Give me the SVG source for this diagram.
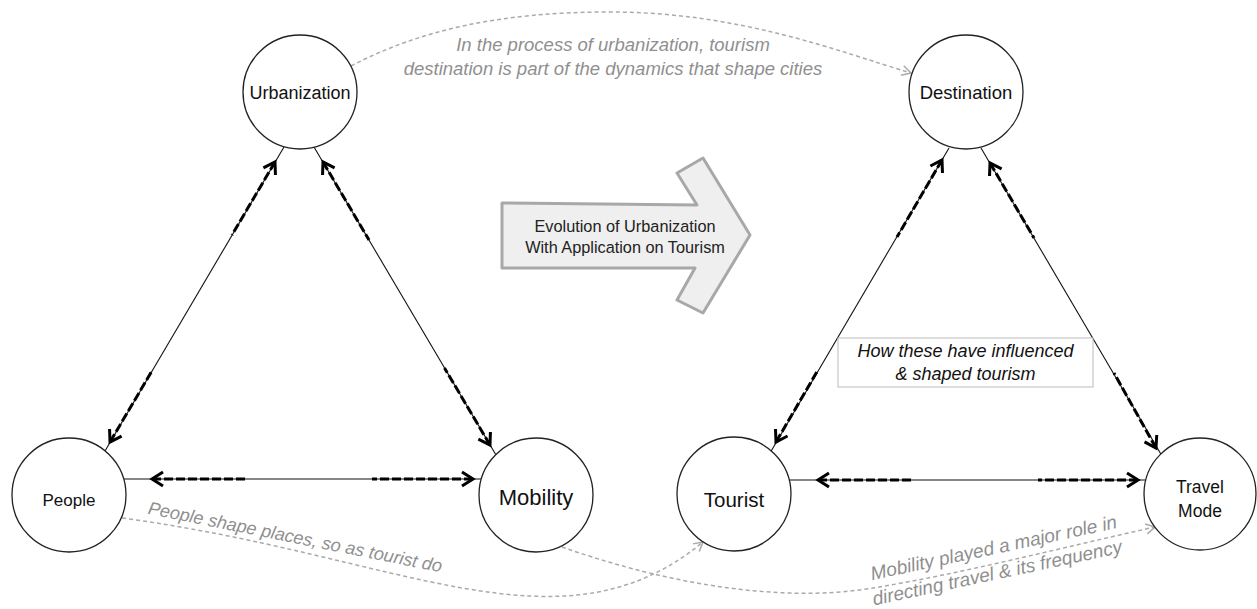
<svg xmlns="http://www.w3.org/2000/svg" width="1257" height="609" viewBox="0 0 1257 609">
<defs>
<style>
.c{fill:#fff;stroke:#222;stroke-width:1.3}
.nl{font-family:"Liberation Sans",Arial,sans-serif;fill:#111;text-anchor:middle}
.thin{stroke:#111;stroke-width:1.1;fill:none}
.td{stroke:#000;stroke-width:3;stroke-dasharray:9 3;fill:none;marker-start:url(#ah)}
.gc{stroke:#aaa;stroke-width:1.5;stroke-dasharray:4 3;fill:none;marker-end:url(#gh)}
.gt{font-family:"Liberation Sans",Arial,sans-serif;font-style:italic;fill:#8f8f8f;text-anchor:middle}
.bt{font-family:"Liberation Sans",Arial,sans-serif;font-style:italic;fill:#111;text-anchor:middle;font-size:18px}
.at{font-family:"Liberation Sans",Arial,sans-serif;fill:#222;text-anchor:middle;font-size:16.3px}
</style>
<marker id="ah" markerUnits="userSpaceOnUse" markerWidth="18" markerHeight="18" refX="13" refY="9" orient="auto-start-reverse" overflow="visible"><path d="M2,2 L13,9 L2,16" fill="none" stroke="#000" stroke-width="3" stroke-dasharray="none"/></marker>
<marker id="gh" markerUnits="userSpaceOnUse" markerWidth="12" markerHeight="12" refX="10" refY="6" orient="auto" overflow="visible"><path d="M1,1 L10,6 L1,11" fill="none" stroke="#aaa" stroke-width="1.5" stroke-dasharray="none"/></marker>
</defs>
<rect width="1257" height="609" fill="#fff"/>
<g id="connectors">
<path class="thin" d="M124,479 H481"/>
<path class="thin" d="M789,480 H1146"/>
<path class="thin" d="M284,147 L105,451"/>
<path class="thin" d="M314,147 L496,455"/>
<path class="thin" d="M949,148 L770,453"/>
<path class="thin" d="M981,148 L1162,456"/>
<path class="td" d="M152,479 H245"/>
<path class="td" d="M473,479 H372"/>
<path class="td" d="M818,480 H912"/>
<path class="td" d="M1138,480 H1038"/>
<path class="td" d="M275,162 L232,235"/>
<path class="td" d="M110,442 L152.5,370"/>
<path class="td" d="M323,162 L369,240"/>
<path class="td" d="M490,445 L444.5,368"/>
<path class="td" d="M942,160 L897,237"/>
<path class="td" d="M776,442 L818,370"/>
<path class="td" d="M990,163 L1034,238"/>
<path class="td" d="M1156,448 L1114,373"/>
<path class="gc" d="M351,66 C420,30 500,12 610,12 C740,12 840,52 911,73"/>
<path class="gc" d="M122,518 C400,555 560,660 703,542"/>
<path class="gc" d="M562,547 C650,578 770,605 873,588 C960,574 1060,548 1155,527"/>
<text class="gt" font-size="18.5" x="613" y="51">In the process of urbanization, tourism</text>
<text class="gt" font-size="18.5" x="613" y="75">destination is part of the dynamics that shape cities</text>
<text class="gt" font-size="18" transform="translate(294,543) rotate(11.3)">People shape places, so as tourist do</text>
<text class="gt" font-size="19" transform="translate(995,554) rotate(-12)">Mobility played a major role in</text>
<text class="gt" font-size="19" transform="translate(998.5,579) rotate(-12)">directing travel &amp; its frequency</text>
</g>
<g id="evolution-arrow">
<polygon points="502,203 697,205 677,173 703,158 750,235 703,313 677,300 695,268 502,268" fill="#efefef" stroke="#a8a8a8" stroke-width="3" stroke-linejoin="round"/>
<text class="at" x="625" y="232">Evolution of Urbanization</text>
<text class="at" x="625" y="253">With Application on Tourism</text>
</g>
<g id="influence-box">
<rect x="838" y="338" width="255" height="49" fill="#fff" stroke="#bbb" stroke-width="1"/>
<text class="bt" x="965.5" y="357">How these have influenced</text>
<text class="bt" x="965.5" y="380">&amp; shaped tourism</text>
</g>
<g id="urbanization"><circle class="c" cx="300" cy="92" r="57"/><text class="nl" x="300" y="99" font-size="18">Urbanization</text></g>
<g id="people"><circle class="c" cx="69" cy="495" r="57"/><text class="nl" x="69" y="506" font-size="17">People</text></g>
<g id="mobility"><circle class="c" cx="536" cy="495" r="57"/><text class="nl" x="536" y="505" font-size="22">Mobility</text></g>
<g id="destination"><circle class="c" cx="966" cy="92" r="57"/><text class="nl" x="966" y="99" font-size="18.5">Destination</text></g>
<g id="tourist"><circle class="c" cx="734" cy="494" r="57"/><text class="nl" x="734" y="507" font-size="20.5">Tourist</text></g>
<g id="travel-mode"><circle class="c" cx="1200" cy="494" r="56"/><text class="nl" x="1200" y="493" font-size="17.5">Travel</text><text class="nl" x="1200" y="517" font-size="17.5">Mode</text></g>
</svg>
